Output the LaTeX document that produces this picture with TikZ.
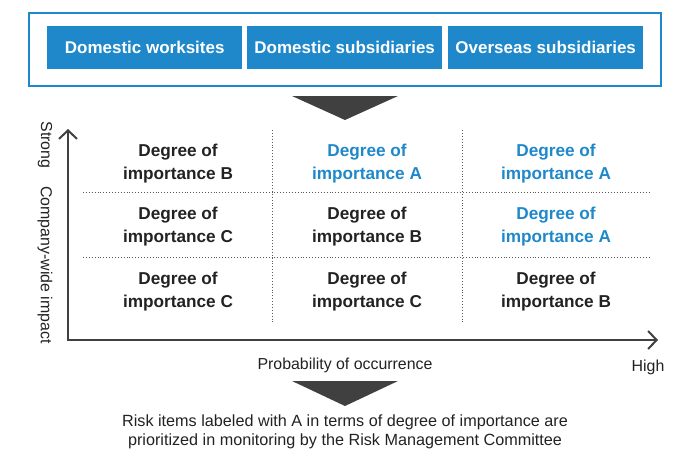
\documentclass[tikz,border=0pt]{standalone}
\usepackage{fontspec}
\setmainfont{Liberation Sans}
\usetikzlibrary{arrows.meta}
\definecolor{brandblue}{HTML}{1E88CA}
\definecolor{inkdark}{HTML}{404040}
\definecolor{inktext}{HTML}{222222}
\begin{document}
\begin{tikzpicture}[x=1pt,y=-1pt,
  unitbox/.style={fill=brandblue, text=white,
    font=\fontsize{17}{20}\selectfont\bfseries,
    minimum width=195pt, minimum height=43pt, inner sep=0pt, anchor=north west},
  cell/.style={align=center, text=inktext,
    font=\fontsize{17.2}{23}\selectfont\bfseries},
  cellA/.style={cell, text=brandblue},
  gridline/.style={dotted, line width=0.9pt, draw=black!65},
  axis/.style={draw=inkdark, line width=2.4pt, line join=miter,
    {Straight Barb[length=8.5pt,width=18pt,line width=2pt]}-{Straight Barb[length=8.5pt,width=18pt,line width=2pt]}},
  funnel/.style={fill=inkdark},
  plain/.style={text=inktext, font=\fontsize{15.9}{18.5}\selectfont}]
\useasboundingbox (0,0) rectangle (675,456);

% organisational units
\draw[brandblue, line width=2pt] (29,13) rectangle (661,86);
\node[unitbox] (dw) at (47,26)  {Domestic worksites};
\node[unitbox] (ds) at (247,26) {Domestic subsidiaries};
\node[unitbox] (os) at (448,26) {Overseas subsidiaries};

% funnel into the matrix
\fill[funnel] (292,96) -- (398,96) -- (345,120) -- cycle;

% axes
\coordinate (ytop) at (68,129);
\coordinate (origin) at (68,340);
\coordinate (xend) at (658,340);
\draw[axis] (ytop) -- (origin) -- (xend);

% dotted grid
\draw[gridline] (272,130) -- (272,322);
\draw[gridline] (462,130) -- (462,322);
\draw[gridline] (83,192) -- (651,192);
\draw[gridline] (83,257) -- (651,257);

% matrix cells
\node[cell]  (c11) at (178,163.5) {Degree of\\importance B};
\node[cellA] (c12) at (367,163.5) {Degree of\\importance A};
\node[cellA] (c13) at (556,163.5) {Degree of\\importance A};
\node[cell]  (c21) at (178,226.5) {Degree of\\importance C};
\node[cell]  (c22) at (367,226.5) {Degree of\\importance B};
\node[cellA] (c23) at (556,226.5) {Degree of\\importance A};
\node[cell]  (c31) at (178,291.5) {Degree of\\importance C};
\node[cell]  (c32) at (367,291.5) {Degree of\\importance C};
\node[cell]  (c33) at (556,291.5) {Degree of\\importance B};

% axis labels
\node[plain, rotate=-90] (strong) at (45,145) {Strong};
\node[plain, rotate=-90] (impact) at (45,265) {Company-wide impact};
\node[plain] (prob) at (345,365) {Probability of occurrence};
\node[plain] (high) at (648,367) {High};

% conclusion
\fill[funnel] (292,381) -- (398,381) -- (345,406) -- cycle;
\node[plain, align=center, font=\fontsize{16.2}{18.5}\selectfont] (note) at (345,432)
  {Risk items labeled with A in terms of degree of importance are\\prioritized in monitoring by the Risk Management Committee};
\end{tikzpicture}
\end{document}
